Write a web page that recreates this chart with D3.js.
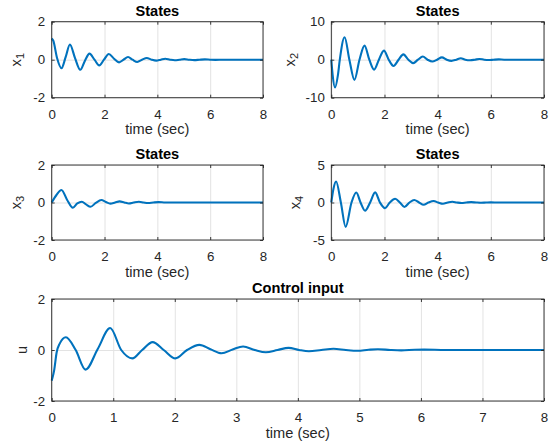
<!DOCTYPE html>
<html><head><meta charset="utf-8">
<script src="https://cdn.jsdelivr.net/npm/d3@7"></script>
<style>
html,body{margin:0;padding:0;background:#fff;}
svg{display:block;font-family:"Liberation Sans",Arial,Helvetica,sans-serif;}
</style></head>
<body>
<svg id="c" width="557" height="446"></svg>
<script>
// ---- data ----
const x1T = [0,0.06,0.2,0.37,0.53,0.69,0.88,1.08,1.26,1.43,1.62,1.8,1.98,2.16,2.36,2.55,2.72,2.89,3.06,3.24,3.42,3.6,3.78,3.96,4.13,4.3,4.48,4.66,4.84,5.02,5.2,5.4,5.6,5.8,6.0,6.2,6.5,7,8];
const x1V = [1.12,1.0,0.1,-0.45,0.15,0.8,0.1,-0.53,-0.05,0.32,0,-0.3,0,0.3,0.05,-0.14,0,0.14,0,-0.12,0,0.09,0,-0.05,0,0.05,0,-0.03,0,0.03,0,-0.02,0,0.015,0,-0.01,0,0,0];

const x2T = [0,0.05,0.14,0.25,0.32,0.5,0.68,0.87,1.06,1.25,1.43,1.61,1.79,1.98,2.16,2.34,2.53,2.71,2.9,3.08,3.26,3.44,3.62,3.8,3.98,4.16,4.34,4.52,4.7,4.87,5.04,5.22,5.4,5.57,5.75,5.93,6.1,6.3,6.5,7,8];
const x2V = [0,-4,-7.3,-4,0,5.9,0,-5.3,0,3.7,0,-2.6,0,2.4,0,-1.65,0,1.4,0,-0.9,0,0.85,0,-0.48,0,0.6,0,-0.3,0,0.4,0,-0.15,0,0.2,0,-0.08,0,0.08,0,0,0];

const x3T = [0,0.18,0.37,0.58,0.8,0.97,1.14,1.3,1.47,1.67,1.88,2.05,2.22,2.4,2.57,2.75,2.92,3.1,3.3,3.48,3.65,3.85,4.05,4.3,5,6,7,8];
const x3V = [0,0.4,0.67,0.15,-0.28,-0.05,0.04,-0.1,-0.23,-0.02,0.13,0.03,-0.06,0,0.06,0,-0.05,0,0.04,0,-0.03,0,0.02,0,0,0,0,0];

const x4T = [0,0.08,0.18,0.36,0.54,0.76,0.94,1.1,1.27,1.46,1.65,1.83,2.02,2.2,2.4,2.58,2.75,2.94,3.12,3.3,3.47,3.65,3.85,4.02,4.2,4.38,4.55,4.72,4.9,5.08,5.26,5.45,5.63,5.82,6.0,6.3,7,8];
const x4V = [0,1.8,2.8,0,-3.25,0,1.33,0,-1.1,0,1.35,0,-0.75,0,0.5,0,-0.6,0,0.33,0,-0.3,0,0.2,0,-0.16,0,0.1,0,-0.07,0,0.05,0,-0.03,0,0.02,0,0,0];

const uT = [0,0.04,0.08,0.13,0.23,0.39,0.55,0.75,0.95,1.13,1.31,1.47,1.64,1.82,2.01,2.2,2.4,2.58,2.76,2.94,3.11,3.3,3.48,3.67,3.85,4.02,4.18,4.38,4.58,4.78,4.97,5.15,5.3,5.5,5.68,5.9,6.05,6.4,7,8];
const uV = [-1.2,-0.8,-0.1,0.25,0.5,0,-0.77,0.05,0.86,0,-0.33,0,0.31,0,-0.33,0,0.2,0.03,-0.13,0.02,0.14,0,-0.09,0,0.085,0,-0.05,0,0.05,0,-0.03,0.01,0.03,0,-0.015,0.008,0.015,0,0,0];

const smallXTicks = [0,2,4,6,8];
const wideXTicks = [0,1,2,3,4,5,6,7,8];
const y2Ticks = [-2,0,2];
const y10Ticks = [-10,0,10];
const y5Ticks = [-5,0,5];

// ---- layout ----
const panels = [
  {l:51.7,r:263,t:21.7,b:97.7, yd:[-2,2], yt:y2Ticks, xt:smallXTicks, T:x1T, V:x1V, lab:"x", sub:"1", title:"States", labX:21},
  {l:331.3,r:544,t:21.7,b:97.7, yd:[-10,10], yt:y10Ticks, xt:smallXTicks, T:x2T, V:x2V, lab:"x", sub:"2", title:"States", labX:295},
  {l:51.7,r:263,t:165,b:240, yd:[-2,2], yt:y2Ticks, xt:smallXTicks, T:x3T, V:x3V, lab:"x", sub:"3", title:"States", labX:21},
  {l:331.3,r:544,t:165,b:240, yd:[-5,5], yt:y5Ticks, xt:smallXTicks, T:x4T, V:x4V, lab:"x", sub:"4", title:"States", labX:300},
  {l:51.7,r:544,t:299,b:401, yd:[-2,2], yt:y2Ticks, xt:wideXTicks, T:uT, V:uV, lab:"u", sub:null, title:"Control input", labX:27}
];

const svg = d3.select("#c");
const axisCol = "#262626";
const tickFont = 13.3, labFont = 14.6;

panels.forEach(p => {
  const w = p.r - p.l, h = p.b - p.t;
  const x = d3.scaleLinear().domain([0,8]).range([0,w]);
  const y = d3.scaleLinear().domain(p.yd).range([h,0]);
  const g = svg.append("g").attr("transform",`translate(${p.l},${p.t})`);

  // grid
  const gx = g.append("g").attr("transform",`translate(0,${h})`)
    .call(d3.axisBottom(x).tickValues(p.xt).tickSize(-h).tickFormat(""));
  const gy = g.append("g")
    .call(d3.axisLeft(y).tickValues(p.yt).tickSize(-w).tickFormat(""));
  [gx,gy].forEach(a => { a.select(".domain").remove(); a.selectAll("line").attr("stroke","#e3e3e3").attr("stroke-width",1); });

  // data line
  const data = p.T.map((t,i)=>[t,p.V[i]]);
  g.append("path").datum(data)
    .attr("fill","none").attr("stroke","#0072BD").attr("stroke-width",2.1)
    .attr("stroke-linejoin","round")
    .attr("d", d3.line().x(d=>x(d[0])).y(d=>y(d[1])).curve(d3.curveMonotoneX));

  // axes with inward ticks
  const tk = 3;
  const ab = g.append("g").attr("transform",`translate(0,${h})`)
    .call(d3.axisBottom(x).tickValues(p.xt).tickSize(-tk).tickPadding(11.5).tickFormat(d3.format("d")));
  const at = g.append("g")
    .call(d3.axisTop(x).tickValues(p.xt).tickSize(-tk).tickFormat(""));
  const al = g.append("g")
    .call(d3.axisLeft(y).tickValues(p.yt).tickSize(-tk).tickPadding(6.5).tickFormat(d3.format("d")));
  const ar = g.append("g").attr("transform",`translate(${w},0)`)
    .call(d3.axisRight(y).tickValues(p.yt).tickSize(-tk).tickFormat(""));
  [ab,at,al,ar].forEach(a => {
    a.select(".domain").remove();
    a.selectAll("line").attr("stroke",axisCol).attr("stroke-width",0.9);
    a.selectAll("text").attr("fill",axisCol).style("font-size",tickFont+"px").style("font-family","'Liberation Sans',Arial,sans-serif");
  });
  al.selectAll("text").text(d => d < 0 ? "-" + Math.abs(d) : d);

  g.append("rect").attr("x",0).attr("y",0).attr("width",w).attr("height",h)
    .attr("fill","none").attr("stroke",axisCol).attr("stroke-width",0.9);

  // title
  svg.append("text").attr("x",p.l + w/2).attr("y",p.t - 5.7)
    .attr("text-anchor","middle").style("font-weight","bold").style("font-size",labFont+"px")
    .attr("fill","#000").text(p.title);

  // x label
  svg.append("text").attr("x",p.l + w/2).attr("y",p.b + 36.5)
    .attr("text-anchor","middle").style("font-size",labFont+"px").attr("fill",axisCol)
    .text("time (sec)");

  // y label
  const yl = svg.append("text")
    .attr("transform",`translate(${p.labX},${p.t + h/2}) rotate(-90)`)
    .attr("text-anchor","middle").style("font-size",labFont+"px").attr("fill",axisCol);
  yl.append("tspan").text(p.lab);
  if (p.sub) yl.append("tspan").attr("dy","0.3em").style("font-size","11px").text(p.sub);
});
</script>
</body></html>
